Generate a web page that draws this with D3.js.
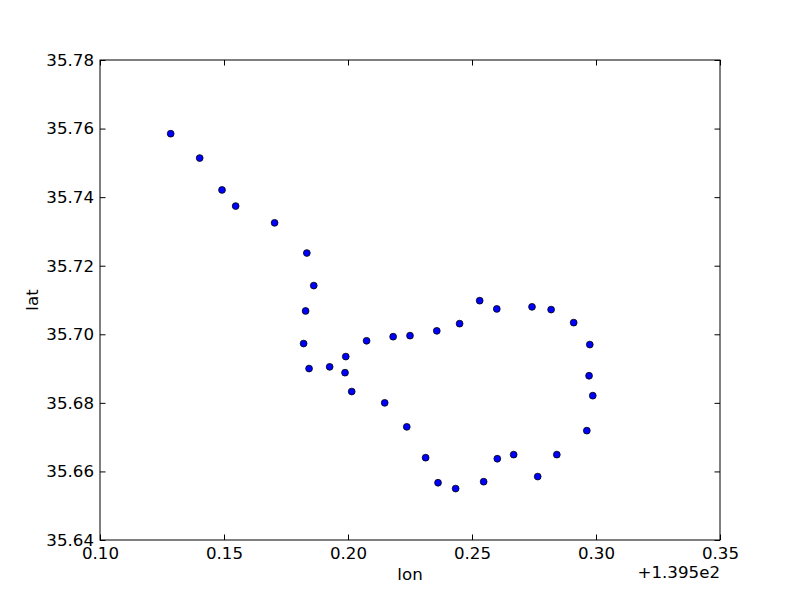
<!DOCTYPE html>
<html>
<head>
<meta charset="utf-8">
<script src="https://cdn.jsdelivr.net/npm/d3@7"></script>
<style>
html,body{margin:0;padding:0;background:#fff;}
svg{display:block;font-family:"DejaVu Sans",sans-serif;}
</style>
</head>
<body>
<svg id="chart" width="800" height="600"></svg>
<script>
// lon values are offsets from 139.5 (displayed as "+1.395e2")
const lon = [0.1285,0.1402,0.1492,0.1547,0.1704,0.1834,0.1862,0.1829,0.1821,0.1843,
             0.1926,0.1991,0.1988,0.2015,0.2075,0.2182,0.2250,0.2358,0.2450,0.2531,
             0.2600,0.2742,0.2819,0.2910,0.2975,0.2972,0.2987,0.2963,0.2842,0.2765,
             0.2668,0.2602,0.2547,0.2434,0.2363,0.2313,0.2237,0.2148];
const lat = [35.7585,35.7514,35.7421,35.7374,35.7325,35.7237,35.7142,35.7068,35.6973,35.6900,
             35.6905,35.6935,35.6888,35.6833,35.6981,35.6993,35.6996,35.7010,35.7031,35.7098,
             35.7074,35.7080,35.7072,35.7034,35.6970,35.6879,35.6821,35.6719,35.6649,35.6585,
             35.6649,35.6637,35.6570,35.6550,35.6567,35.6640,35.6730,35.6800];
const xTicks = [0.10,0.15,0.20,0.25,0.30,0.35];
const yTicks = [35.64,35.66,35.68,35.70,35.72,35.74,35.76,35.78];
const xLabel = "lon", yLabel = "lat", xOffsetText = "+1.395e2";

const svg = d3.select("#chart");
const L = 100, R = 720, T = 60, B = 540;
const x = d3.scaleLinear().domain([0.10,0.35]).range([L,R]);
const y = d3.scaleLinear().domain([35.64,35.78]).range([B,T]);
const fs = 16.67, tl = 5.5;

function styleAxis(g){
  g.select(".domain").remove();
  g.selectAll(".tick line").attr("stroke","#000").attr("stroke-width",1);
  g.selectAll(".tick text").attr("fill","#000").style("font-size",fs+"px").style("font-family","DejaVu Sans");
}
// bottom
svg.append("g").attr("transform",`translate(0,${B})`)
  .call(d3.axisBottom(x).tickValues(xTicks).tickFormat(d3.format(".2f")).tickSizeInner(-tl).tickPadding(7))
  .call(styleAxis);
// top
svg.append("g").attr("transform",`translate(0,${T})`)
  .call(d3.axisTop(x).tickValues(xTicks).tickFormat("").tickSizeInner(-tl))
  .call(styleAxis);
// left
svg.append("g").attr("transform",`translate(${L},0)`)
  .call(d3.axisLeft(y).tickValues(yTicks).tickFormat(d3.format(".2f")).tickSizeInner(-tl).tickPadding(6))
  .call(styleAxis);
// right
svg.append("g").attr("transform",`translate(${R},0)`)
  .call(d3.axisRight(y).tickValues(yTicks).tickFormat("").tickSizeInner(-tl))
  .call(styleAxis);

// frame
svg.append("rect").attr("x",L).attr("y",T).attr("width",R-L).attr("height",B-T)
  .attr("fill","none").attr("stroke","#000").attr("stroke-width",1);

// points
svg.append("g").selectAll("circle").data(lon.map((d,i)=>[d,lat[i]])).join("circle")
  .attr("cx",d=>x(d[0])).attr("cy",d=>y(d[1])).attr("r",3.4)
  .attr("fill","#0000ff").attr("stroke","#000").attr("stroke-width",0.8);

// labels
svg.append("text").attr("x",(L+R)/2).attr("y",580).attr("text-anchor","middle")
  .style("font-size",fs+"px").text(xLabel);
svg.append("text").attr("transform",`translate(38,${(T+B)/2}) rotate(-90)`).attr("text-anchor","middle")
  .style("font-size",fs+"px").text(yLabel);
svg.append("text").attr("x",R).attr("y",578).attr("text-anchor","end")
  .style("font-size",fs+"px").text(xOffsetText);
</script>
</body>
</html>
